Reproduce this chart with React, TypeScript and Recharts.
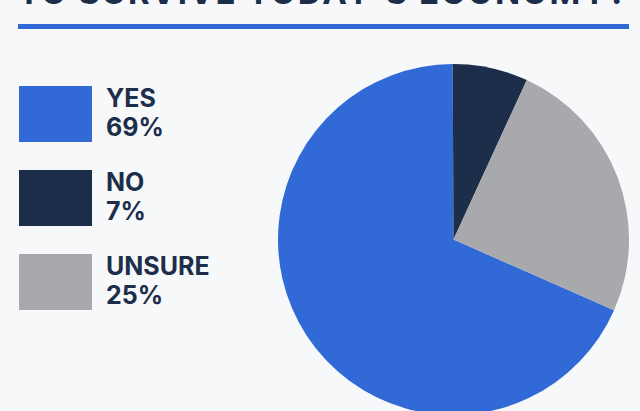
import React from "react";
import { PieChart, Pie, Cell } from "recharts";

const categories = ["YES", "NO", "UNSURE"];
const values = [69, 7, 25];
const colors = ["#3169D6", "#1C2E4A", "#A8A9AC"];
const titleText = "TO SURVIVE TODAY'S ECONOMY?";

const data = categories.map((name, i) => ({ name, value: values[i] }));

const TEXT = "#1C2E4A";
const FONT = "Inter, 'Noto Sans', sans-serif";

export default function App() {
  return (
    <div
      style={{
        position: "fixed",
        left: 0,
        top: 0,
        width: 640,
        height: 411,
        background: "#F7F8FA",
        overflow: "hidden",
      }}
    >
      <div
        style={{
          position: "absolute",
          left: 18,
          top: -28,
          fontFamily: FONT,
          fontWeight: 700,
          fontSize: 33,
          lineHeight: "40px",
          color: TEXT,
          whiteSpace: "nowrap",
          letterSpacing: 2,
        }}
      >
        {titleText}
      </div>
      <div style={{ position: "absolute", left: 18, top: 24, width: 611, height: 5, background: "#3169D6" }} />
      <div style={{ position: "absolute", left: 0, top: 0 }}>
        <PieChart width={640} height={411} margin={{ top: 0, right: 0, bottom: 0, left: 0 }}>
          <Pie
            data={data}
            dataKey="value"
            nameKey="name"
            cx={453.5}
            cy={239.5}
            innerRadius={0}
            outerRadius={175.5}
            startAngle={-23.8}
            endAngle={-383.8}
            stroke="none"
            isAnimationActive={false}
          >
            {data.map((d, i) => (
              <Cell key={d.name} fill={colors[i]} />
            ))}
          </Pie>
        </PieChart>
      </div>
      <div style={{ position: "absolute", left: 19, top: 86, fontFamily: FONT }}>
        {data.map((d, i) => (
          <div key={d.name} style={{ position: "absolute", left: 0, top: i * 84, width: 240, height: 60 }}>
            <div style={{ position: "absolute", left: 0, top: 0, width: 73, height: 56, background: colors[i] }} />
            <div
              style={{
                position: "absolute",
                left: 87,
                top: -2,
                color: TEXT,
                fontWeight: 700,
                fontSize: 25,
                lineHeight: "29px",
                whiteSpace: "nowrap",
              }}
            >
              <div>{d.name}</div>
              <div>{d.value}%</div>
            </div>
          </div>
        ))}
      </div>
    </div>
  );
}
